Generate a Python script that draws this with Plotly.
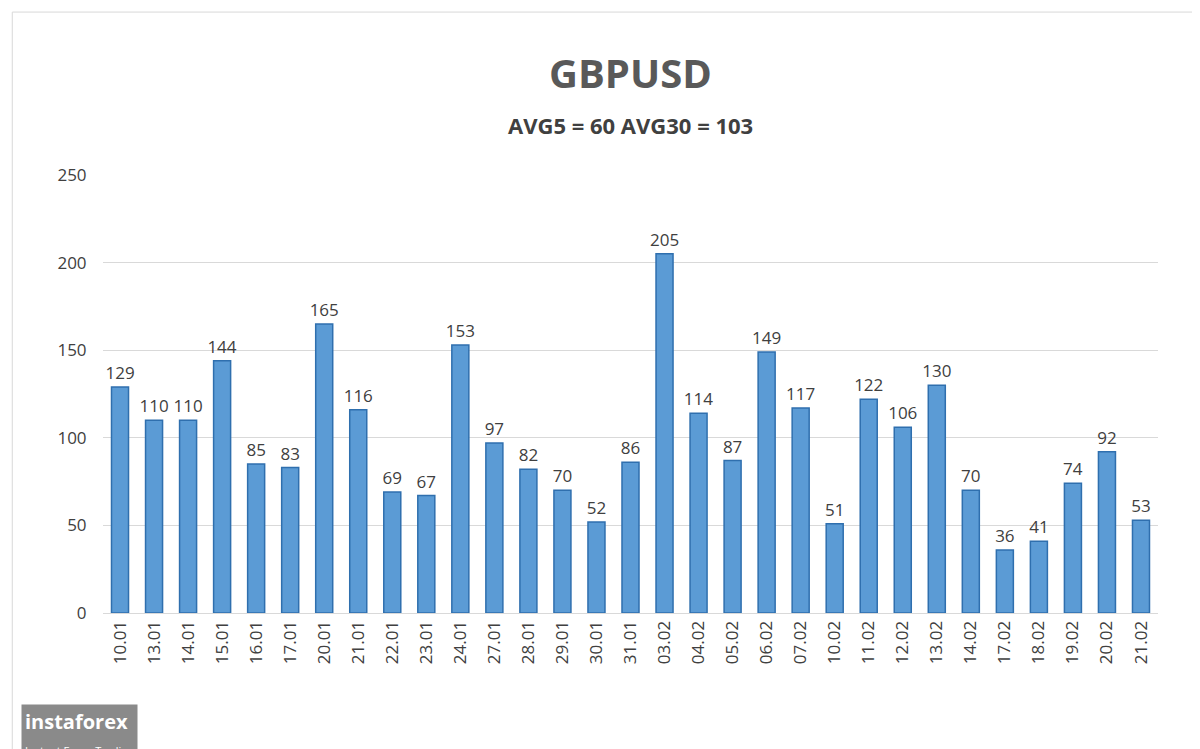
import plotly.graph_objects as go

dates = ["10.01", "13.01", "14.01", "15.01", "16.01", "17.01", "20.01", "21.01", "22.01", "23.01",
         "24.01", "27.01", "28.01", "29.01", "30.01", "31.01", "03.02", "04.02", "05.02", "06.02",
         "07.02", "10.02", "11.02", "12.02", "13.02", "14.02", "17.02", "18.02", "19.02", "20.02", "21.02"]
values = [129, 110, 110, 144, 85, 83, 165, 116, 69, 67,
          153, 97, 82, 70, 52, 86, 205, 114, 87, 149,
          117, 51, 122, 106, 130, 70, 36, 41, 74, 92, 53]

fig = go.Figure()
fig.add_trace(go.Bar(
    x=dates, y=values,
    text=values, textposition="outside", constraintext="none",
    textfont=dict(size=17, color="#404040"),
    marker=dict(color="#5b9bd5", line=dict(color="#2f6fae", width=1.5)),
    width=0.5, cliponaxis=False
))

fig.update_layout(
    width=1200, height=749,
    paper_bgcolor="white", plot_bgcolor="white",
    margin=dict(l=95, r=50, t=167, b=144, autoexpand=False),
    font=dict(family="Open Sans, DejaVu Sans", color="#595959"),
    showlegend=False,
    annotations=[
        dict(text="<b>GBPUSD</b>", xref="paper", yref="paper", x=0.5, y=1.233, yanchor="middle",
             showarrow=False, font=dict(size=40, color="#595959")),
        dict(text="<b>AVG5 = 60 AVG30 = 103</b>", xref="paper", yref="paper", x=0.5, y=1.114,
             yanchor="middle", showarrow=False, font=dict(size=22, color="#404040")),
        dict(text="<b>instaforex</b><br><span style='font-size:11px'>Instant Forex Trading</span>",
             xref="paper", yref="paper", x=-0.078, y=-0.275, xanchor="left", yanchor="middle",
             showarrow=False, align="left", font=dict(size=20, color="#ffffff"),
             bgcolor="#8a8a8a", borderpad=3),
    ],
    shapes=[dict(type="rect", xref="paper", yref="paper", x0=-0.086, x1=1.044, y0=-0.32, y1=1.372,
                 line=dict(color="#d9d9d9", width=1))],
)
fig.update_xaxes(tickangle=-90, tickfont=dict(size=17, color="#404040"), showline=True,
                 linecolor="#d9d9d9", ticks="", automargin=False)
fig.update_yaxes(range=[0, 250], dtick=50, gridcolor="#d9d9d9", tickfont=dict(size=17, color="#404040"),
                 zeroline=False, ticks="outside", ticklen=12, tickcolor="white", automargin=False)
fig.write_html("out.html")
